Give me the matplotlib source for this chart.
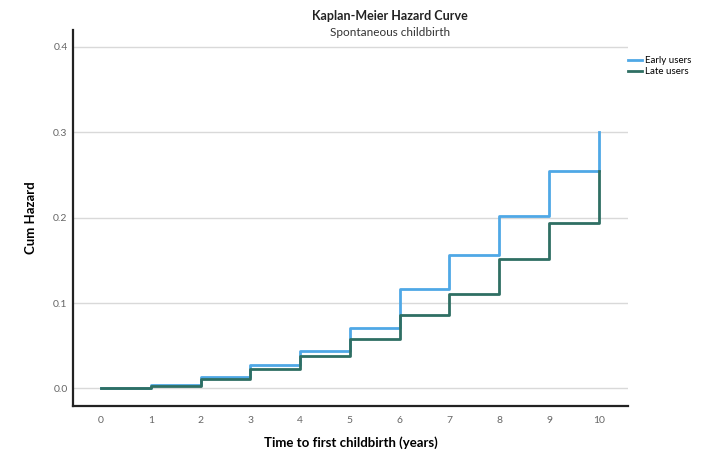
import matplotlib
matplotlib.use('Agg')
import matplotlib.pyplot as plt
from matplotlib.lines import Line2D

plt.rcParams['font.family'] = ['Lato', 'DejaVu Sans']

# ---------------- data ----------------
years = [0, 1, 2, 3, 4, 5, 6, 7, 8, 9, 10]
early_users = [0.000, 0.004, 0.013, 0.027, 0.044, 0.071, 0.117, 0.156, 0.202, 0.255, 0.300]
late_users = [0.000, 0.003, 0.011, 0.023, 0.038, 0.058, 0.086, 0.111, 0.152, 0.194, 0.255]
y_ticks = [0.0, 0.1, 0.2, 0.3, 0.4]

blue = '#4fa8e6'
green = '#2f6f63'

fig = plt.figure(figsize=(7.24, 4.53), dpi=100)
ax = fig.add_axes([0.101, 0.103, 0.766, 0.831])

# step curves (post): the last point is only the vertical jump at 10
ax.step(years, early_users, where='post', color=blue, lw=2, zorder=3)
ax.step(years, late_users, where='post', color=green, lw=2, zorder=4)

ax.set_xlim(-0.56, 10.58)
ax.set_ylim(-0.021, 0.42)
ax.set_xticks(years)
ax.set_yticks(y_ticks)
ax.set_yticklabels(['%.1f' % v for v in y_ticks])
ax.tick_params(axis='x', length=0, labelsize=7.5, colors='#666666', pad=7)
ax.tick_params(axis='y', length=0, labelsize=7.5, colors='#666666', pad=4)
ax.yaxis.grid(True, color='#d9d9d9', lw=1)
ax.set_axisbelow(True)

for s in ['top', 'right']:
    ax.spines[s].set_visible(False)
for s in ['left', 'bottom']:
    ax.spines[s].set_linewidth(1.6)
    ax.spines[s].set_color('#222222')

ax.set_xlabel('Time to first childbirth (years)', fontsize=9.5, fontweight='bold', labelpad=8)
ax.set_ylabel('Cum Hazard', fontsize=9.5, fontweight='bold', labelpad=12)

fig.text(0.539, 0.965, 'Kaplan-Meier Hazard Curve', ha='center', va='center',
         fontsize=9, fontweight='bold', color='#222222')
fig.text(0.539, 0.928, 'Spontaneous childbirth', ha='center', va='center',
         fontsize=8.5, color='#333333')

handles = [Line2D([], [], color=blue, lw=2), Line2D([], [], color=green, lw=2)]
fig.legend(handles, ['Early users', 'Late users'], loc='upper left',
           bbox_to_anchor=(0.855, 0.895), frameon=False, fontsize=7,
           handlelength=1.5, handletextpad=0.3, labelspacing=0.2)

fig.savefig('out.png', dpi=100)
